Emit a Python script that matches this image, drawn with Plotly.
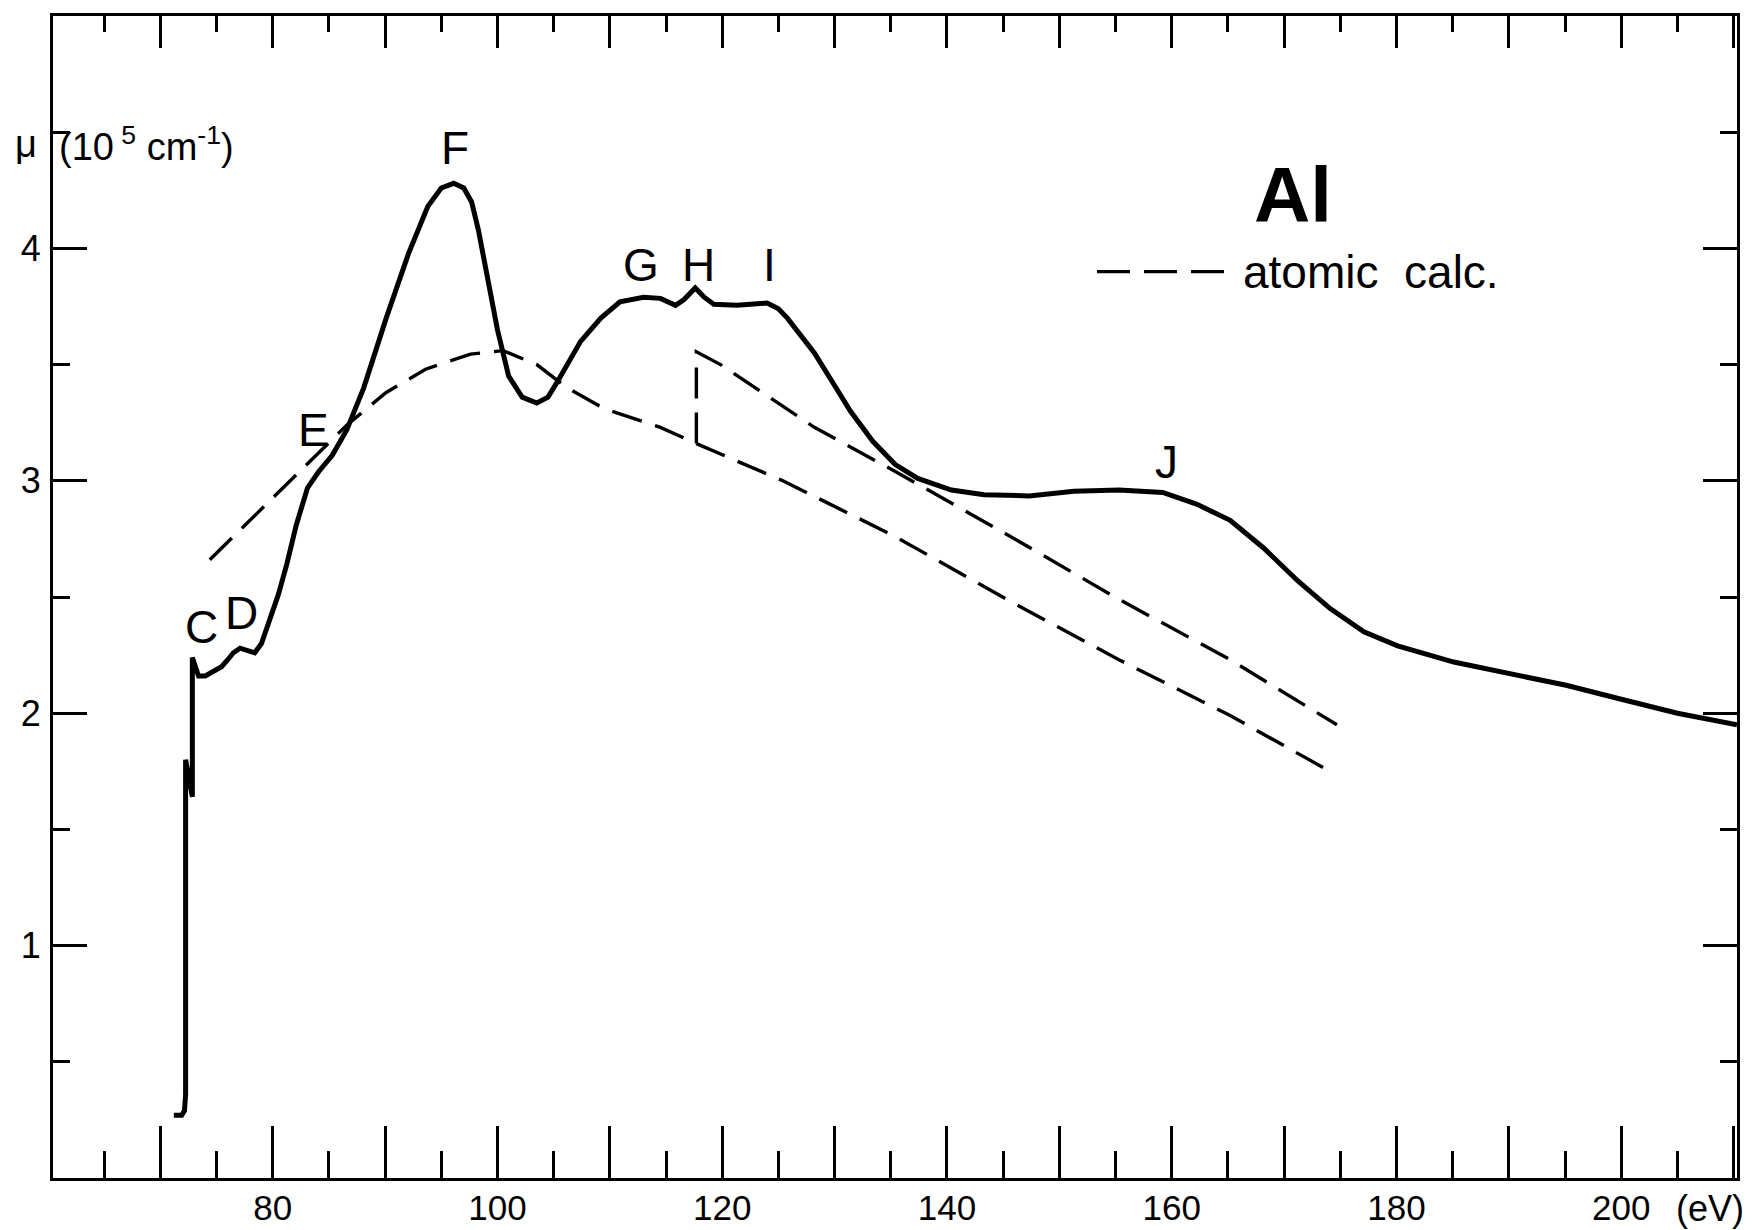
import plotly.graph_objects as go

# ---------------- data ----------------
# measured absorption coefficient (solid curve), energy in eV, mu in 1e5 cm^-1
energy_meas = [71.2, 71.9, 72.15, 72.25, 72.25, 72.85, 72.85, 73.4, 74.0, 74.7, 75.45, 76.0,
               76.5, 77.1, 77.7, 78.4, 79.0, 79.76, 80.5, 81.25, 82.1, 83.1, 84.1, 85.3,
               86.6, 88.1, 90.1, 92.1, 93.8, 95.0, 96.1, 97.0, 97.7, 98.3, 99.0, 100.0,
               101.0, 102.2, 103.5, 104.5, 105.5, 106.2, 107.4, 109.2, 110.9, 113.0, 114.5,
               115.85, 116.6, 117.6, 118.4, 119.25, 121.3, 124.0, 125.0, 125.8, 128.2, 130.0,
               131.4, 133.4, 135.4, 137.4, 140.4, 143.3, 147.3, 151.3, 155.3, 159.2, 162.2,
               165.2, 168.2, 171.2, 174.1, 177.1, 180.1, 185.1, 190.1, 195.1, 200.0, 205.0,
               210.3]
mu_meas = [0.27, 0.27, 0.29, 0.36, 1.80, 1.64, 2.24, 2.16, 2.16, 2.18, 2.20, 2.23,
           2.26, 2.28, 2.27, 2.26, 2.30, 2.41, 2.51, 2.64, 2.81, 2.97, 3.04, 3.11,
           3.22, 3.40, 3.70, 3.98, 4.18, 4.26, 4.28, 4.26, 4.20, 4.08, 3.91, 3.65,
           3.45, 3.36, 3.335, 3.36, 3.44, 3.50, 3.60, 3.70, 3.77, 3.79, 3.785,
           3.755, 3.78, 3.83, 3.79, 3.76, 3.755, 3.765, 3.74, 3.70, 3.55, 3.41,
           3.30, 3.17, 3.07, 3.01, 2.96, 2.94, 2.935, 2.955, 2.96, 2.95, 2.90,
           2.83, 2.71, 2.57, 2.45, 2.35, 2.29, 2.22, 2.17, 2.12, 2.06, 2.00,
           1.95]

# atomic calculation, lower branch (dashed)
energy_atomic = [74.4, 78.6, 83.1, 86.6, 90.1, 93.6, 97.6, 100.5, 103.5, 106.2, 109.5,
                 112.5, 114.5, 117.7, 125.4, 135.4, 145.3, 155.3, 165.2, 173.7]
mu_atomic = [2.66, 2.86, 3.07, 3.24, 3.38, 3.48, 3.545, 3.56, 3.50, 3.40, 3.31,
             3.26, 3.23, 3.16, 3.00, 2.76, 2.49, 2.23, 1.99, 1.76]

# atomic calculation, branch above the edge (dashed, incl. the vertical step)
energy_atomic_edge = [117.7, 117.7, 119.85, 128.2, 135.4, 145.3, 155.3, 165.2, 174.7]
mu_atomic_edge = [3.16, 3.555, 3.50, 3.23, 3.04, 2.77, 2.49, 2.23, 1.95]

# feature labels
feature_labels = ["C", "D", "E", "F", "G", "H", "I", "J"]
feature_x = [73.67, 77.24, 83.6, 96.25, 112.8, 117.9, 124.2, 159.5]
feature_y = [2.37, 2.43, 3.22, 4.43, 3.93, 3.93, 3.93, 3.08]

# axis ticks
x_labeled = [80, 100, 120, 140, 160, 180, 200]
x_labels = ["80", "100", "120", "140", "160", "180", "200"]
x_unlabeled = [70, 90, 110, 130, 150, 170, 190, 210]
x_major_all = [70, 80, 90, 100, 110, 120, 130, 140, 150, 160, 170, 180, 190, 200, 210]
x_minor = [65, 75, 85, 95, 105, 115, 125, 135, 145, 155, 165, 175, 185, 195, 205]
y_major = [1, 2, 3, 4]
y_labels = ["1", "2", "3", "4"]
y_minor = [0.5, 1.5, 2.5, 3.5, 4.5]

X_RANGE = [60.45, 210.3]
Y_RANGE = [0, 5]

FONT = "Liberation Sans, Arial, sans-serif"

fig = go.Figure()

fig.add_trace(go.Scatter(x=energy_meas, y=mu_meas, mode="lines",
                         line=dict(color="black", width=5), showlegend=False,
                         name="measured"))
fig.add_trace(go.Scatter(x=energy_atomic, y=mu_atomic, mode="lines",
                         line=dict(color="black", width=3.4, dash="31px,14px"),
                         showlegend=False, name="atomic calc."))
fig.add_trace(go.Scatter(x=energy_atomic_edge, y=mu_atomic_edge, mode="lines",
                         line=dict(color="black", width=3.4, dash="31px,14px"),
                         showlegend=False, name="atomic calc. (above edge)"))
# invisible traces carrying the extra tick axes
fig.add_trace(go.Scatter(x=X_RANGE, y=Y_RANGE, xaxis="x2", mode="lines",
                         line=dict(width=0), hoverinfo="skip", showlegend=False))
fig.add_trace(go.Scatter(x=X_RANGE, y=Y_RANGE, xaxis="x3", mode="lines",
                         line=dict(width=0), hoverinfo="skip", showlegend=False))

annotations = []
for t, xx, yy in zip(feature_labels, feature_x, feature_y):
    annotations.append(dict(x=xx, y=yy, xref="x", yref="y", text=t, showarrow=False,
                            font=dict(family=FONT, size=46, color="black")))

annotations += [
    dict(x=170.8, y=4.23, xref="x", yref="y", text="<b>Al</b>", showarrow=False,
         font=dict(family=FONT, size=78, color="black")),
    dict(x=166.2, y=3.90, xref="x", yref="y", text="atomic  calc.", showarrow=False,
         xanchor="left", font=dict(family=FONT, size=46, color="black")),
    dict(x=0, y=4.45, xref="paper", yref="y", text="μ", showarrow=False,
         xanchor="right", xshift=-14, font=dict(family=FONT, size=38, color="black")),
    dict(x=0, y=4.45, xref="paper", yref="y",
         text="(10<sup> 5</sup> cm<sup>-1</sup>)", showarrow=False,
         xanchor="left", xshift=4, font=dict(family=FONT, size=38, color="black")),
    dict(x=207.9, y=0, xref="x", yref="paper", text="(eV)", showarrow=False,
         yanchor="top", yshift=-8, font=dict(family=FONT, size=36, color="black")),
]

fig.update_layout(
    width=1754, height=1230,
    margin=dict(l=53, r=17, t=16, b=52),
    paper_bgcolor="white", plot_bgcolor="white",
    annotations=annotations,
    shapes=[dict(type="line", xref="x", yref="y", x0=153.35, x1=164.85, y0=3.90, y1=3.90,
                 line=dict(color="black", width=3.4, dash="33px,14px"))],
    xaxis=dict(range=X_RANGE, showgrid=False, zeroline=False, automargin=False,
               showline=True, linecolor="black", linewidth=3, mirror=True,
               tickmode="array", tickvals=x_labeled, ticktext=x_labels,
               ticks="inside", ticklen=52, tickwidth=2.5, tickcolor="black",
               ticklabelstandoff=-3,
               tickfont=dict(family=FONT, size=35, color="black"),
               minor=dict(tickvals=x_minor, ticks="inside", ticklen=27,
                          tickwidth=2.5, tickcolor="black")),
    xaxis3=dict(range=X_RANGE, overlaying="x", side="bottom", showgrid=False,
                zeroline=False, showline=False, automargin=False,
                showticklabels=False, tickmode="array", tickvals=x_unlabeled,
                ticks="inside", ticklen=52, tickwidth=2.5, tickcolor="black"),
    xaxis2=dict(range=X_RANGE, overlaying="x", side="top", showgrid=False,
                zeroline=False, showline=False, automargin=False,
                showticklabels=False, tickmode="array", tickvals=x_major_all,
                ticks="inside", ticklen=32, tickwidth=2.5, tickcolor="black",
                minor=dict(tickvals=x_minor, ticks="inside", ticklen=16,
                           tickwidth=2.5, tickcolor="black")),
    yaxis=dict(range=Y_RANGE, showgrid=False, zeroline=False, automargin=False,
               showline=True, linecolor="black", linewidth=3, mirror="ticks",
               tickmode="array", tickvals=y_major, ticktext=y_labels,
               ticks="inside", ticklen=34, tickwidth=2.5, tickcolor="black",
               ticklabelstandoff=2,
               tickfont=dict(family=FONT, size=36, color="black"),
               minor=dict(tickvals=y_minor, ticks="inside", ticklen=17,
                          tickwidth=2.5, tickcolor="black")),
)

fig.write_html("out.html", config={"displayModeBar": False},
               post_script="document.body.style.margin='0';")
